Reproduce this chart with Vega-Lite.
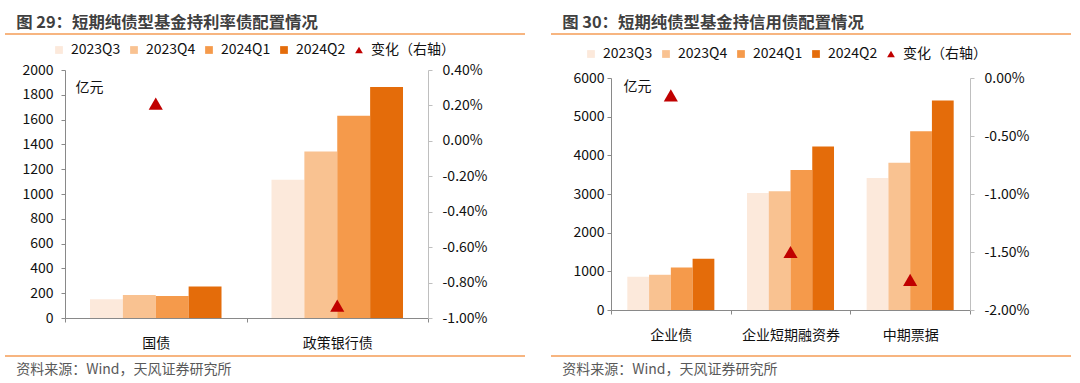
{
  "$schema": "https://vega.github.io/schema/vega-lite/v6.json",
  "padding": {"left": 4, "top": 14, "right": 0, "bottom": 0},
  "background": "white",
  "spacing": 24,
  "resolve": {"scale": {"color": "independent", "xOffset": "independent"}, "legend": {"color": "independent"}},
  "config": {
    "view": {"stroke": null},
    "font": "Noto Sans CJK SC",
    "locale": {"number": {"decimal": ".", "thousands": ",", "grouping": [3], "currency": ["", ""], "minus": "-"}},
    "axis": {"labelFont": "Noto Sans CJK SC", "labelFontSize": 14, "labelColor": "#111111", "grid": false, "tickSize": 4, "domainColor": "#898989", "tickColor": "#898989", "domainWidth": 1, "tickWidth": 1},
    "legend": {"labelFont": "Noto Sans CJK SC"},
    "title": {"font": "Noto Sans CJK SC"}
  },
  "datasets": {
    "lb": [
      {"cat": "国债", "q": "2023Q3", "v": 152},
      {"cat": "国债", "q": "2023Q4", "v": 185},
      {"cat": "国债", "q": "2024Q1", "v": 177},
      {"cat": "国债", "q": "2024Q2", "v": 255},
      {"cat": "政策银行债", "q": "2023Q3", "v": 1114},
      {"cat": "政策银行债", "q": "2023Q4", "v": 1342},
      {"cat": "政策银行债", "q": "2024Q1", "v": 1632},
      {"cat": "政策银行债", "q": "2024Q2", "v": 1863}
    ],
    "lc": [
      {"cat": "国债", "chg": 0.0021},
      {"cat": "政策银行债", "chg": -0.0093}
    ],
    "rb": [
      {"cat": "企业债", "q": "2023Q3", "v": 860},
      {"cat": "企业债", "q": "2023Q4", "v": 911},
      {"cat": "企业债", "q": "2024Q1", "v": 1100},
      {"cat": "企业债", "q": "2024Q2", "v": 1324},
      {"cat": "企业短期融资券", "q": "2023Q3", "v": 3026},
      {"cat": "企业短期融资券", "q": "2023Q4", "v": 3069},
      {"cat": "企业短期融资券", "q": "2024Q1", "v": 3619},
      {"cat": "企业短期融资券", "q": "2024Q2", "v": 4229},
      {"cat": "中期票据", "q": "2023Q3", "v": 3413},
      {"cat": "中期票据", "q": "2023Q4", "v": 3808},
      {"cat": "中期票据", "q": "2024Q1", "v": 4625},
      {"cat": "中期票据", "q": "2024Q2", "v": 5416}
    ],
    "rc": [
      {"cat": "企业债", "chg": -0.0015},
      {"cat": "企业短期融资券", "chg": -0.0150},
      {"cat": "中期票据", "chg": -0.0174}
    ],
    "line": [{"a": 0, "b": 1}]
  },
  "hconcat": [
    {
      "bounds": "flush",
      "spacing": 35,
      "resolve": {"scale": {"color": "independent", "xOffset": "independent"}, "legend": {"color": "independent"}},
      "vconcat": [
        {
          "width": 520, "height": 2,
          "title": {"text": "图 29：短期纯债型基金持利率债配置情况", "anchor": "start", "dx": 12, "fontSize": 16.4, "fontWeight": "bold", "color": "#404040", "offset": 2},
          "data": {"name": "line"},
          "mark": {"type": "rule", "color": "#F59D56", "strokeWidth": 1.7},
          "encoding": {"x": {"field": "a", "type": "quantitative", "scale": {"domain": [0, 1], "nice": false}, "axis": null}, "x2": {"field": "b"}}
        },
        {
          "width": 520, "height": 248,
          "encoding": {
            "x": {"field": "cat", "type": "nominal", "scale": {"domain": ["国债", "政策银行债"], "range": [60, 423], "paddingInner": 0, "paddingOuter": 0},
                  "axis": {"title": null, "labelAngle": 0, "tickBand": "extent", "labelPadding": 14}}
          },
          "layer": [
            {
              "data": {"name": "lb"},
              "mark": {"type": "bar"},
              "encoding": {
                "xOffset": {"field": "q", "type": "nominal", "scale": {"domain": ["2023Q3", "2023Q4", "2024Q1", "2024Q2"], "paddingInner": 0, "paddingOuter": 0.76}},
                "y": {"field": "v", "type": "quantitative", "scale": {"domain": [0, 2000], "nice": false},
                      "axis": {"orient": "left", "offset": -60, "values": [0, 200, 400, 600, 800, 1000, 1200, 1400, 1600, 1800, 2000], "format": "d", "labelPadding": 8,
                               "title": "亿元", "titleAngle": 0, "titleAlign": "left", "titleBaseline": "middle", "titleX": 10, "titleY": 17, "titleFontWeight": "normal", "titleFontSize": 14, "titleColor": "#111111"}},
                "color": {"field": "q", "type": "nominal",
                          "scale": {"domain": ["2023Q3", "2023Q4", "2024Q1", "2024Q2", "变化（右轴）"], "range": ["#FCE9DB", "#F9C291", "#F59A4B", "#E46C0A", "#C00000"]},
                          "legend": {"orient": "none", "legendX": 47, "legendY": -27, "direction": "horizontal", "title": null, "labelFontSize": 14, "labelColor": "#111111", "symbolSize": 60, "columnPadding": 6, "labelOffset": 5, "symbolStrokeWidth": 0,
                                     "encode": {"symbols": {"update": {"shape": {"signal": "datum.value === '变化（右轴）' ? 'triangle-up' : 'square'"}}}}}}
              }
            },
            {
              "data": {"name": "lc"},
              "mark": {"type": "point", "shape": "triangle-up", "filled": true, "size": 200, "opacity": 1},
              "encoding": {
                "y": {"field": "chg", "type": "quantitative", "scale": {"domain": [-0.01, 0.004], "nice": false, "zero": false},
                      "axis": {"orient": "right", "offset": -97, "format": ".2%", "values": [-0.01, -0.008, -0.006, -0.004, -0.002, 0, 0.002, 0.004], "title": null, "labelPadding": 10, "domainColor": "#BFBFBF", "tickColor": "#BFBFBF"}},
                "color": {"datum": "变化（右轴）"}
              }
            }
          ],
          "resolve": {"scale": {"y": "independent"}}
        },
        {
          "width": 520, "height": 6,
          "title": {"text": "资料来源：Wind，天风证券研究所", "orient": "bottom", "anchor": "start", "dx": 12, "fontSize": 14, "fontWeight": "normal", "color": "#595959", "offset": 4},
          "data": {"name": "line"},
          "mark": {"type": "rule", "color": "#F59D56", "strokeWidth": 1.7},
          "encoding": {"x": {"field": "a", "type": "quantitative", "scale": {"domain": [0, 1], "nice": false}, "axis": null}, "x2": {"field": "b"}}
        }
      ]
    },
    {
      "bounds": "flush",
      "spacing": 43,
      "resolve": {"scale": {"color": "independent", "xOffset": "independent"}, "legend": {"color": "independent"}},
      "vconcat": [
        {
          "width": 520, "height": 2,
          "title": {"text": "图 30：短期纯债型基金持信用债配置情况", "anchor": "start", "dx": 12, "fontSize": 16.4, "fontWeight": "bold", "color": "#404040", "offset": 2},
          "data": {"name": "line"},
          "mark": {"type": "rule", "color": "#F59D56", "strokeWidth": 1.7},
          "encoding": {"x": {"field": "a", "type": "quantitative", "scale": {"domain": [0, 1], "nice": false}, "axis": null}, "x2": {"field": "b"}}
        },
        {
          "width": 520, "height": 232,
          "encoding": {
            "x": {"field": "cat", "type": "nominal", "scale": {"domain": ["企业债", "企业短期融资券", "中期票据"], "range": [60, 419], "paddingInner": 0, "paddingOuter": 0},
                  "axis": {"title": null, "labelAngle": 0, "tickBand": "extent", "labelPadding": 14}}
          },
          "layer": [
            {
              "data": {"name": "rb"},
              "mark": {"type": "bar"},
              "encoding": {
                "xOffset": {"field": "q", "type": "nominal", "scale": {"domain": ["2023Q3", "2023Q4", "2024Q1", "2024Q2"], "paddingInner": 0, "paddingOuter": 0.75}},
                "y": {"field": "v", "type": "quantitative", "scale": {"domain": [0, 6000], "nice": false},
                      "axis": {"orient": "left", "offset": -60, "values": [0, 1000, 2000, 3000, 4000, 5000, 6000], "format": "d", "labelPadding": 3,
                               "title": "亿元", "titleAngle": 0, "titleAlign": "left", "titleBaseline": "middle", "titleX": 12, "titleY": 8, "titleFontWeight": "normal", "titleFontSize": 14, "titleColor": "#111111"}},
                "color": {"field": "q", "type": "nominal",
                          "scale": {"domain": ["2023Q3", "2023Q4", "2024Q1", "2024Q2", "变化（右轴）"], "range": ["#FCE9DB", "#F9C291", "#F59A4B", "#E46C0A", "#C00000"]},
                          "legend": {"orient": "none", "legendX": 33, "legendY": -31, "direction": "horizontal", "title": null, "labelFontSize": 14, "labelColor": "#111111", "symbolSize": 60, "columnPadding": 6, "labelOffset": 5, "symbolStrokeWidth": 0,
                                     "encode": {"symbols": {"update": {"shape": {"signal": "datum.value === '变化（右轴）' ? 'triangle-up' : 'square'"}}}}}}
              }
            },
            {
              "data": {"name": "rc"},
              "mark": {"type": "point", "shape": "triangle-up", "filled": true, "size": 200, "opacity": 1},
              "encoding": {
                "y": {"field": "chg", "type": "quantitative", "scale": {"domain": [-0.02, 0], "nice": false, "zero": false},
                      "axis": {"orient": "right", "offset": -101, "format": ".2%", "values": [-0.02, -0.015, -0.01, -0.005, 0], "title": null, "labelPadding": 10, "domainColor": "#BFBFBF", "tickColor": "#BFBFBF"}},
                "color": {"datum": "变化（右轴）"}
              }
            }
          ],
          "resolve": {"scale": {"y": "independent"}}
        },
        {
          "width": 520, "height": 6,
          "title": {"text": "资料来源：Wind，天风证券研究所", "orient": "bottom", "anchor": "start", "dx": 12, "fontSize": 14, "fontWeight": "normal", "color": "#595959", "offset": 4},
          "data": {"name": "line"},
          "mark": {"type": "rule", "color": "#F59D56", "strokeWidth": 1.7},
          "encoding": {"x": {"field": "a", "type": "quantitative", "scale": {"domain": [0, 1], "nice": false}, "axis": null}, "x2": {"field": "b"}}
        }
      ]
    }
  ]
}
